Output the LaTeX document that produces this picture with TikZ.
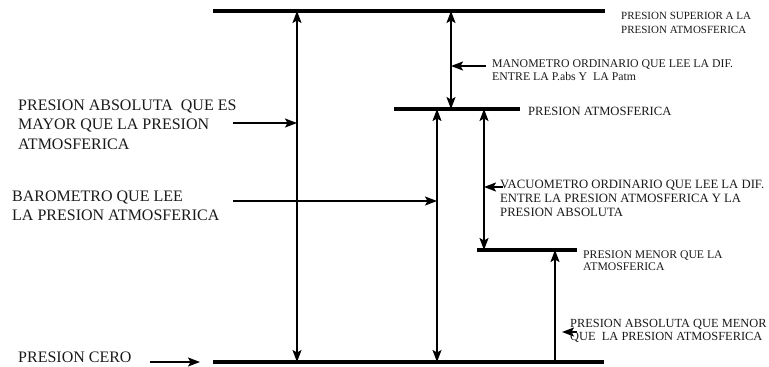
\documentclass[tikz,border=0pt]{standalone}
\usepackage{fontspec}
\setmainfont{Liberation Serif}
\usetikzlibrary{arrows.meta}
\begin{document}
\begin{tikzpicture}[x=1pt,y=-1pt,
  bar/.style={line width=4pt},
  vline/.style={line width=1.4pt},
  tip/.style={-{Stealth[length=12pt,width=9pt,inset=2.5pt]}},
  dtip/.style={{Stealth[length=12pt,width=9pt,inset=2.5pt]}-{Stealth[length=12pt,width=9pt,inset=2.5pt]}},
  lbl/.style={anchor=north west,inner sep=0pt,align=left,text=black!90},
  fbig/.style={font=\fontsize{16}{19.8}\selectfont},
  fsup/.style={font=\fontsize{11}{14}\selectfont},
  fmano/.style={font=\fontsize{11.8}{13}\selectfont},
  fatm/.style={font=\fontsize{12.6}{14}\selectfont},
  fvac/.style={font=\fontsize{12.7}{14}\selectfont},
  fmenor/.style={font=\fontsize{11.7}{12.5}\selectfont},
  fabs/.style={font=\fontsize{12.4}{13.5}\selectfont}]
\useasboundingbox (0,0) rectangle (769,367);

% bar end points
\coordinate (topL) at (213,11);  \coordinate (topR) at (605,11);
\coordinate (atmL) at (394,109); \coordinate (atmR) at (520,109);
\coordinate (lowL) at (477,250); \coordinate (lowR) at (577,250);
\coordinate (zerL) at (213,362); \coordinate (zerR) at (604,362);

% arrow end points on the bars
\coordinate (a1t) at (297,11);  \coordinate (a1b) at (297,362);
\coordinate (a2t) at (451,11);  \coordinate (a2b) at (451,109);
\coordinate (a3t) at (437,109); \coordinate (a3b) at (437,362);
\coordinate (a4t) at (484,109); \coordinate (a4b) at (484,250);
\coordinate (a5t) at (555,250); \coordinate (a5b) at (555,362);

% horizontal pointer end points
\coordinate (h1s) at (233,123); \coordinate (h1e) at (297,123);
\coordinate (h2s) at (233,201); \coordinate (h2e) at (437,201);
\coordinate (h3s) at (486,66);  \coordinate (h3e) at (451,66);
\coordinate (h4s) at (503,187); \coordinate (h4e) at (484,187);
\coordinate (h5s) at (577,332); \coordinate (h5e) at (562,332);
\coordinate (h6s) at (150,362); \coordinate (h6e) at (200,362);

% vertical arrows
\draw[vline,dtip] (a1t) -- (a1b);
\draw[vline,dtip] (a2t) -- (a2b);
\draw[vline,dtip] (a3t) -- (a3b);
\draw[vline,dtip] (a4t) -- (a4b);
\draw[vline,tip] (a5b) -- (a5t);

% horizontal pointers
\draw[vline,tip] (h1s) -- (h1e);
\draw[vline,tip] (h2s) -- (h2e);
\draw[vline,tip] (h3s) -- (h3e);
\draw[vline,tip] (h4s) -- (h4e);
\draw[vline,tip] (h5s) -- (h5e);
\draw[vline,tip] (h6s) -- (h6e);

% bars
\draw[bar] (topL) -- (topR);
\draw[bar] (atmL) -- (atmR);
\draw[bar] (lowL) -- (lowR);
\draw[bar] (zerL) -- (zerR);

% labels
\node[lbl,fsup] (sup) at (621,12.4) {PRESION SUPERIOR A LA\\PRESION ATMOSFERICA};
\node[lbl,fmano] (mano) at (492,59.5) {MANOMETRO ORDINARIO QUE LEE LA DIF.\\ENTRE LA P.abs Y~ LA Patm};
\node[lbl,fatm] (atm) at (528,106.7) {PRESION ATMOSFERICA};
\node[lbl,fvac] (vac) at (500,179.6) {VACUOMETRO ORDINARIO QUE LEE LA DIF.\\ENTRE LA PRESION ATMOSFERICA Y LA\\PRESION ABSOLUTA};
\node[lbl,fmenor] (menor) at (583,250.4) {PRESION MENOR QUE LA\\ATMOSFERICA};
\node[lbl,fabs] (absm) at (570,319) {PRESION ABSOLUTA QUE MENOR\\QUE~ LA PRESION ATMOSFERICA};
\node[lbl,fbig] (absM) at (18,99.4) {PRESION ABSOLUTA~ QUE ES\\MAYOR QUE LA PRESION\\ATMOSFERICA};
\node[lbl,fbig] (baro) at (12,190.4) {BAROMETRO QUE LEE\\LA PRESION ATMOSFERICA};
\node[lbl,fbig] (cero) at (18,351.4) {PRESION CERO};
\end{tikzpicture}
\end{document}
